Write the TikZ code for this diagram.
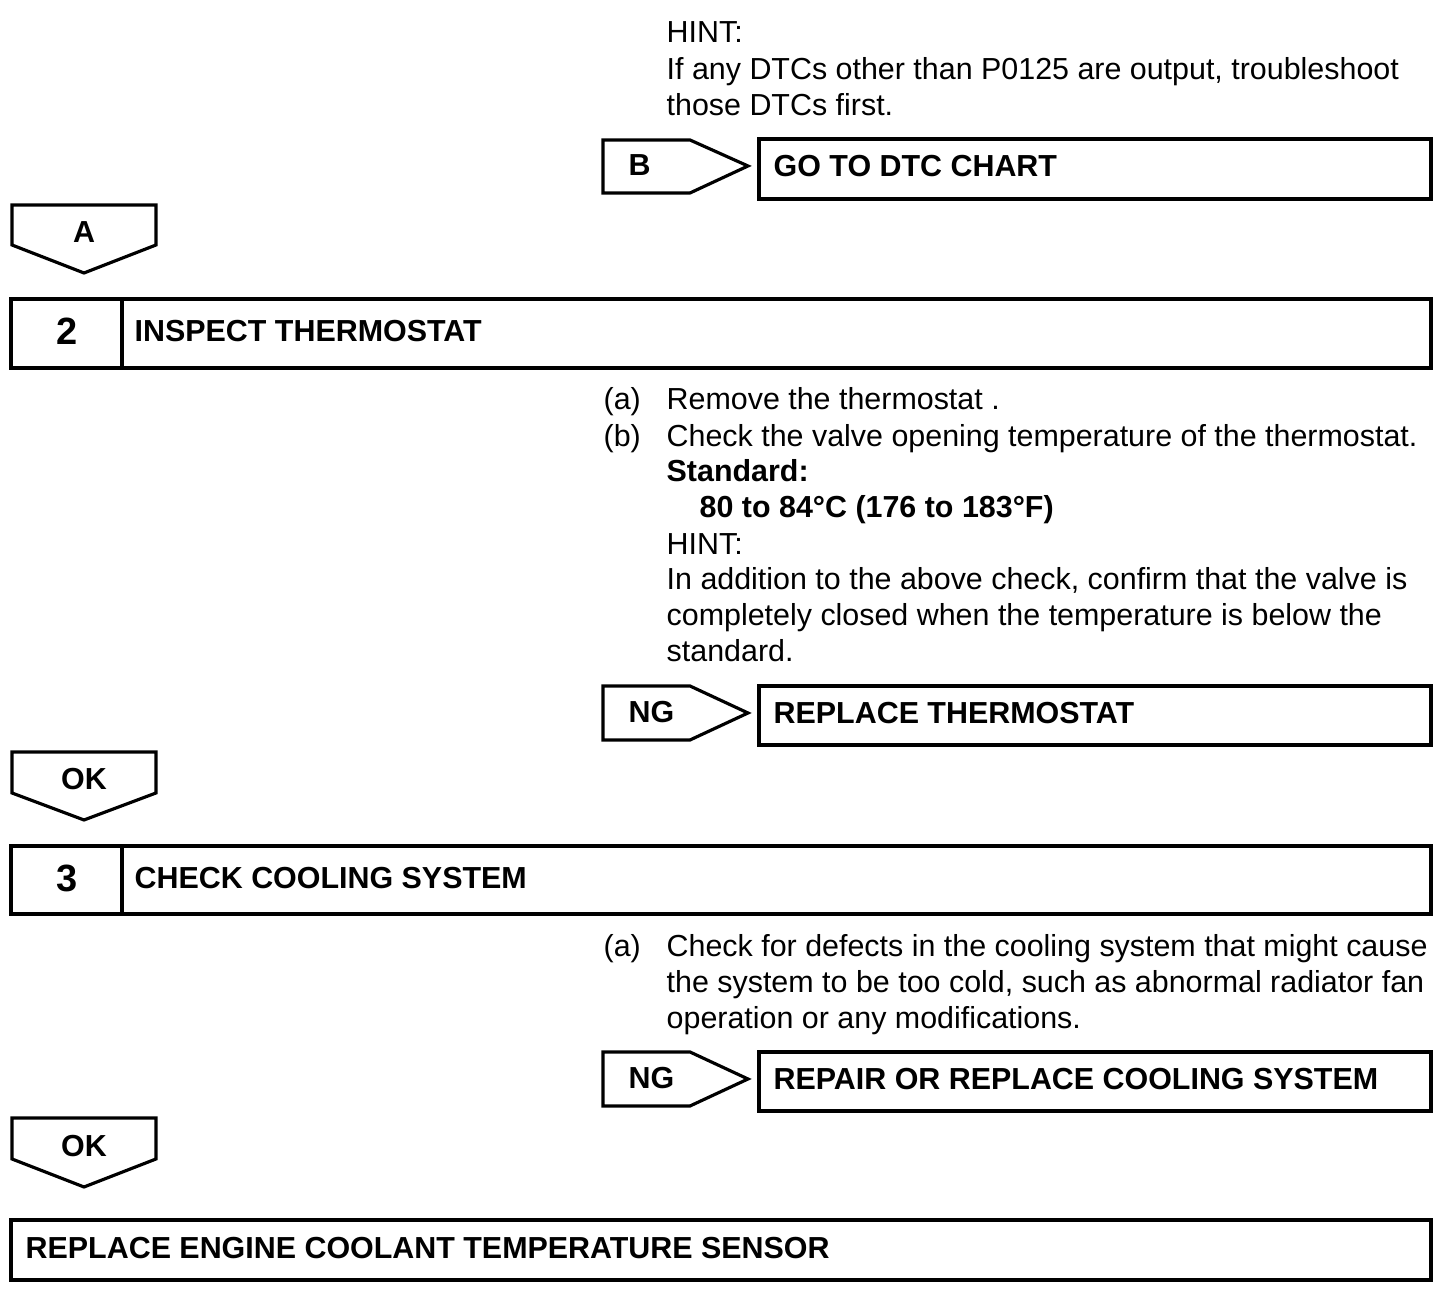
\documentclass[tikz,border=0pt]{standalone}
\usepackage{fontspec}
\setmainfont{Liberation Sans}
\usetikzlibrary{positioning}

\tikzset{
  txt/.style={anchor=base west,inner sep=0pt,font=\fontsize{8.65}{10.2}\selectfont},
  btxt/.style={anchor=base west,inner sep=0pt,font=\fontsize{8.65}{10.2}\selectfont\bfseries},
  tagtxt/.style={anchor=base,inner sep=0pt,font=\fontsize{8.65}{10.2}\selectfont\bfseries},
  numtxt/.style={anchor=base,inner sep=0pt,font=\fontsize{10.8}{12}\selectfont\bfseries},
  frame/.style={draw,line width=0.9pt}
}

\begin{document}
\begin{tikzpicture}[x=0.01cm,y=-0.01cm,line join=miter]
\useasboundingbox (0,0) rectangle (1456,1298);
% hint before B
\node[txt] (hintB1) at (666,43) {HINT:};
\node[txt] (hintB2) at (666,80) {If any DTCs other than P0125 are output, troubleshoot};
\node[txt] (hintB3) at (666,116) {those DTCs first.};
\draw[frame] (603,140)--(690,140)--(748,166)--(690,193)--(603,193)--cycle;
\node[btxt] (tagB) at (628,176) {B};
\draw[frame] (759,139) rectangle (1431,199);
\node[btxt] (dtcchart) at (773,177) {GO TO DTC CHART};
\draw[frame] (12,205)--(156,205)--(156,245)--(84,273)--(12,245)--cycle;
\node[tagtxt] (tagA) at (84,243) {A};
% step 2
\draw[frame] (11,299) rectangle (1431,368);
\draw[frame] (122,299)--(122,368);
\node[numtxt] (num2) at (67,345) {2};
\node[btxt] (step2) at (134,342) {INSPECT THERMOSTAT};
\node[txt] (s2a) at (603,410) {(a)};
\node[txt] (s2aT) at (666,410) {Remove the thermostat .};
\node[txt] (s2b) at (603,447) {(b)};
\node[txt] (s2bT) at (666,447) {Check the valve opening temperature of the thermostat.};
\node[btxt] (std) at (666,482) {Standard:};
\node[btxt] (stdval) at (699,518) {80 to 84°C (176 to 183°F)};
\node[txt] (hint2a) at (666,555) {HINT:};
\node[txt] (hint2b) at (666,590) {In addition to the above check, confirm that the valve is};
\node[txt] (hint2c) at (666,626) {completely closed when the temperature is below the};
\node[txt] (hint2d) at (666,662) {standard.};
\draw[frame] (603,686)--(690,686)--(748,713)--(690,740)--(603,740)--cycle;
\node[btxt] (tagNG2) at (628,723) {NG};
\draw[frame] (759,686) rectangle (1431,745);
\node[btxt] (replthermo) at (773,724) {REPLACE THERMOSTAT};
\draw[frame] (12,752)--(156,752)--(156,793)--(84,820)--(12,793)--cycle;
\node[tagtxt] (tagOK2) at (84,790) {OK};
% step 3
\draw[frame] (11,846) rectangle (1431,914);
\draw[frame] (122,846)--(122,914);
\node[numtxt] (num3) at (67,892) {3};
\node[btxt] (step3) at (134,889) {CHECK COOLING SYSTEM};
\node[txt] (s3a) at (603,957) {(a)};
\node[txt] (s3aT1) at (666,957) {Check for defects in the cooling system that might cause};
\node[txt] (s3aT2) at (666,993) {the system to be too cold, such as abnormal radiator fan};
\node[txt] (s3aT3) at (666,1029) {operation or any modifications.};
\draw[frame] (603,1052)--(690,1052)--(748,1079)--(690,1106)--(603,1106)--cycle;
\node[btxt] (tagNG3) at (628,1089) {NG};
\draw[frame] (759,1052) rectangle (1431,1111);
\node[btxt] (replcool) at (773,1090) {REPAIR OR REPLACE COOLING SYSTEM};
\draw[frame] (12,1118)--(156,1118)--(156,1159)--(84,1187)--(12,1159)--cycle;
\node[tagtxt] (tagOK3) at (84,1157) {OK};
% last step
\draw[frame] (11,1220) rectangle (1431,1280);
\node[btxt] (replsensor) at (25,1259) {REPLACE ENGINE COOLANT TEMPERATURE SENSOR};
\end{tikzpicture}
\end{document}
